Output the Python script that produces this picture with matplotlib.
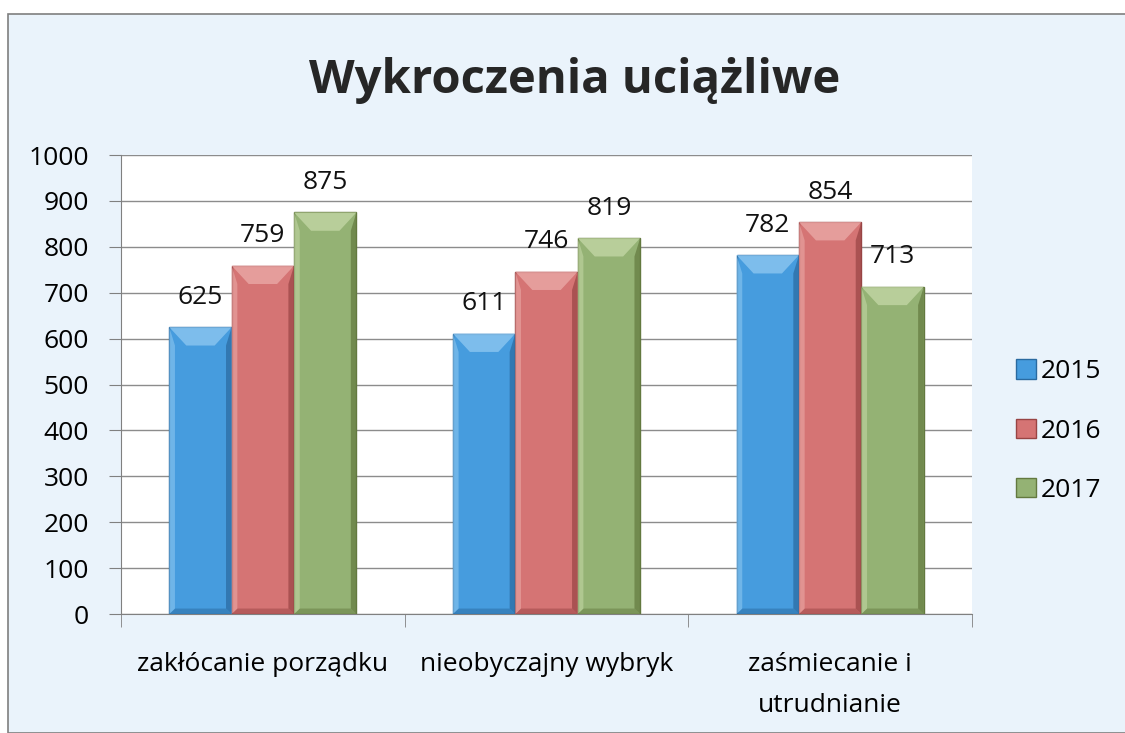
import matplotlib.pyplot as plt
import numpy as np
from matplotlib.patches import Polygon, Rectangle

categories = ['zakłócanie porządku', 'nieobyczajny wybryk', 'zaśmiecanie i\nutrudnianie']
years = ['2015', '2016', '2017']
values = {
    '2015': [625, 611, 782],
    '2016': [759, 746, 854],
    '2017': [875, 819, 713],
}
colors = {'2015': '#469cde', '2016': '#d57474', '2017': '#94b274'}
light = {'2015': '#8cc6f0', '2016': '#eaa8a6', '2017': '#c2d6a4'}
dark = {'2015': '#2a6aa0', '2016': '#984444', '2017': '#63793f'}

plt.rcParams['font.family'] = ['Open Sans', 'DejaVu Sans']

fig = plt.figure(figsize=(11.25, 7.33), dpi=100)
fig.patch.set_facecolor('white')
# outer chart frame
fig.patches.append(Rectangle((0.007, 0.0), 1.0, 0.981, transform=fig.transFigure,
                             facecolor='#eaf3fb', edgecolor='#7f7f7f', lw=1.2, zorder=-10))

ax = fig.add_axes([0.1076, 0.1623, 0.7564, 0.6262])
ax.set_facecolor('white')

x = np.arange(len(categories))
w = 0.22
for i, yr in enumerate(years):
    bars = ax.bar(x + (i - 1) * w, values[yr], width=w, color=colors[yr],
                  edgecolor=dark[yr], linewidth=1.0, zorder=3)
    for b, v in zip(bars, values[yr]):
        x0, x1 = b.get_x(), b.get_x() + b.get_width()
        bev, bh = 0.06, 40
        sw = 0.02
        # top bevel
        ax.add_patch(Polygon([[x0, v], [x1, v], [x1 - bev, v - bh], [x0 + bev, v - bh]],
                             closed=True, facecolor=light[yr], edgecolor='none', alpha=0.8, zorder=4))
        # bottom bevel
        ax.add_patch(Polygon([[x0, 0], [x1, 0], [x1 - sw, 12], [x0 + sw, 12]],
                             closed=True, facecolor=dark[yr], edgecolor='none', alpha=0.5, zorder=4))
        # right side shade
        ax.add_patch(Polygon([[x1, v], [x1, 0], [x1 - sw, 12], [x1 - sw, v - bh]],
                             closed=True, facecolor=dark[yr], edgecolor='none', alpha=0.7, zorder=4))
        # left side light
        ax.add_patch(Polygon([[x0, v], [x0, 0], [x0 + sw, 12], [x0 + sw, v - bh]],
                             closed=True, facecolor=light[yr], edgecolor='none', alpha=0.6, zorder=4))
        ax.text(b.get_x() + b.get_width() / 2, v + 38, str(v), ha='center', va='bottom',
                fontsize=19, color='#111111', zorder=5)

ax.set_xlim(-0.5, 2.5)
ax.set_ylim(0, 1000)
ax.set_yticks(range(0, 1001, 100))
ax.set_xticks(x)
ax.set_xticklabels(categories, fontsize=19, linespacing=1.85)
ax.set_xticks([-0.5, 0.5, 1.5, 2.5], minor=True)
ax.tick_params(axis='x', which='major', length=0, pad=27)
ax.tick_params(axis='x', which='minor', length=9, color='#808080', direction='out')
ax.tick_params(axis='y', labelsize=19, length=9, color='#808080', pad=14)
ax.grid(axis='y', color='#8c8c8c', linewidth=1.0, zorder=0)
for s in ['top', 'right']:
    ax.spines[s].set_visible(False)
ax.spines['left'].set_color('#808080')
ax.spines['bottom'].set_color('#808080')

fig.text(0.511, 0.89, 'Wykroczenia uciążliwe', ha='center', va='center',
         fontsize=34, fontweight='bold', color='#262626')

handles = [Rectangle((0, 0), 1, 1, facecolor=colors[y], edgecolor=dark[y]) for y in years]
leg = fig.legend(handles, years, loc='center left', bbox_to_anchor=(0.903, 0.412),
                 frameon=False, fontsize=19, handlelength=0.75, handleheight=0.75,
                 handletextpad=0.2, labelspacing=1.3, borderpad=0, borderaxespad=0)

fig.savefig('out.png', dpi=100)
